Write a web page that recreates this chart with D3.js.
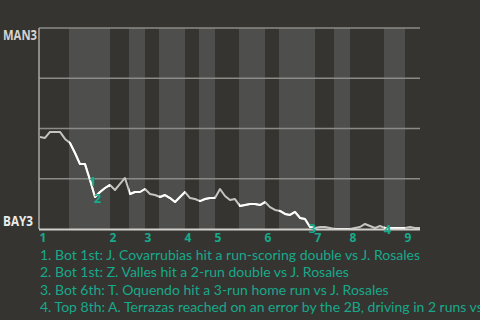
<!DOCTYPE html>
<html><head><meta charset="utf-8">
<script src="https://cdn.jsdelivr.net/npm/d3@7"></script>
<style>
html,body{margin:0;padding:0;background:#363430;}
svg{display:block;}
</style></head>
<body>
<script>
// Win probability for MAN3 (percent) after each plate appearance
const winProb = [45.8,45.3,48.3,48.3,48.3,44.8,42.8,37.8,32.3,32.3,24.4,15.9,18.4,20.4,21.9,19.4,22.4,25.4,17.4,18.4,
  18.4,19.9,17.4,16.9,15.9,16.9,15.4,13.4,15.9,18.4,15.4,14.9,13.9,14.9,15.4,15.4,19.9,16.4,14.4,14.9,
  11.4,11.9,12.4,12.4,11.9,13.4,10.9,9.5,9.0,7.5,7.0,8.5,5.5,5.0,1.0,0.5,1.0,1.0,0.5,0,
  0,0,0,0.5,1.0,2.5,1.5,0.5,1.5,0.5,0.5,0.5,0.5,0.5,1.0,0.5,0.5];
// half-inning boundaries (plate-appearance index)
const halfInningStarts = [0,5.8,14,17.8,21,23.8,29,31.8,35,39.8,45,47.8,55,58.8,62,68.8,73];
const lastIndex = 76;
const innings = ["1","2","3","4","5","6","7","8","9"];
const teams = ["MAN3","BAY3"];
const gridTicks = [0.25,0.5,0.75,1];
const annotations = [
  {label:"1", index:10, text:"1. Bot 1st: J. Covarrubias hit a run-scoring double vs J. Rosales"},
  {label:"2", index:11, text:"2. Bot 1st: Z. Valles hit a 2-run double vs J. Rosales"},
  {label:"3", index:54, text:"3. Bot 6th: T. Oquendo hit a 3-run home run vs J. Rosales"},
  {label:"4", index:69, text:"4. Top 8th: A. Terrazas reached on an error by the 2B, driving in 2 runs vs J. Rosales"}
];

const W=480,H=320;
const m={left:39,right:60,top:28,bottom:91};
const teal="#17a98b";
const svg=d3.select("body").append("svg").attr("width",W).attr("height",H);
const x=d3.scaleLinear().domain([-0.2,lastIndex]).range([m.left,W-m.right]);
const y=d3.scaleLinear().domain([0,1]).range([H-m.bottom,m.top]);

// bands
const bounds = halfInningStarts.concat([lastIndex]);
const halves = d3.range(halfInningStarts.length).map(i=>({s:bounds[i],e:bounds[i+1],bottom:i%2===1}));
svg.append("g").selectAll("rect").data(halves.filter(d=>d.bottom)).join("rect")
  .attr("x",d=>x(d.s)).attr("width",d=>x(d.e)-x(d.s))
  .attr("y",y(1)).attr("height",y(0)-y(1)).attr("fill","#4e4e4c");

// clip for bottom halves
const clip=svg.append("clipPath").attr("id","bot");
clip.selectAll("rect").data(halves.filter(d=>d.bottom)).join("rect")
  .attr("x",d=>x(d.s)).attr("width",d=>x(d.e)-x(d.s)).attr("y",0).attr("height",H);

// grid
svg.append("g").selectAll("line").data(gridTicks).join("line")
  .attr("x1",x(-0.2)).attr("x2",x(lastIndex)).attr("y1",d=>y(d)).attr("y2",d=>y(d))
  .attr("stroke","#8a8a86").attr("stroke-width",1.5);
svg.append("line").attr("x1",x(-0.2)).attr("x2",x(-0.2)).attr("y1",y(1)).attr("y2",y(0))
  .attr("stroke","#a8a8a4").attr("stroke-width",1.5);

// line
const line=d3.line().x((d,i)=>x(i)).y(d=>y(d/100));
svg.append("path").datum(winProb).attr("d",line).attr("fill","none")
  .attr("stroke","#c4c4c0").attr("stroke-width",2).attr("stroke-linejoin","round");
svg.append("path").datum(winProb).attr("d",line).attr("fill","none").attr("clip-path","url(#bot)")
  .attr("stroke","#ffffff").attr("stroke-width",2).attr("stroke-linejoin","round");

// bottom axis line
svg.append("line").attr("x1",x(-0.2)).attr("x2",x(lastIndex)).attr("y1",y(0)+0.5).attr("y2",y(0)+0.5)
  .attr("stroke","#cfcfcb").attr("stroke-width",2);

// team labels
svg.append("text").text(teams[0]).attr("x",3).attr("y",40)
  .attr("textLength",34).attr("lengthAdjust","spacingAndGlyphs")
  .attr("font-family","Open Sans").attr("font-weight","bold").attr("font-size",14.5).attr("fill","#d4d4d0");
svg.append("text").text(teams[1]).attr("x",3).attr("y",226)
  .attr("textLength",30).attr("lengthAdjust","spacingAndGlyphs")
  .attr("font-family","Open Sans").attr("font-weight","bold").attr("font-size",14).attr("fill","#ececea");

// inning labels
const topStarts = halfInningStarts.filter((d,i)=>i%2===0);
svg.append("g").selectAll("text").data(innings).join("text")
  .text(d=>d).attr("x",(d,i)=>x(topStarts[i])+3).attr("y",y(0)+12.5).attr("text-anchor","middle")
  .attr("font-family","Open Sans").attr("font-weight","bold").attr("font-size",12).attr("fill",teal);

// annotation markers
svg.append("g").selectAll("text").data(annotations).join("text")
  .text(d=>d.label).attr("x",d=>x(d.index)+2.5).attr("y",d=>y(winProb[d.index]/100)+6)
  .attr("text-anchor","middle").attr("font-family","Open Sans").attr("font-weight","bold")
  .attr("font-size",13).attr("fill",teal);

// annotation texts
svg.append("g").selectAll("text").data(annotations).join("text")
  .text(d=>d.text).attr("x",40).attr("y",(d,i)=>259.5+i*17.6)
  .attr("font-family","Lato").attr("font-size",14).attr("fill",teal);
</script>
</body></html>
